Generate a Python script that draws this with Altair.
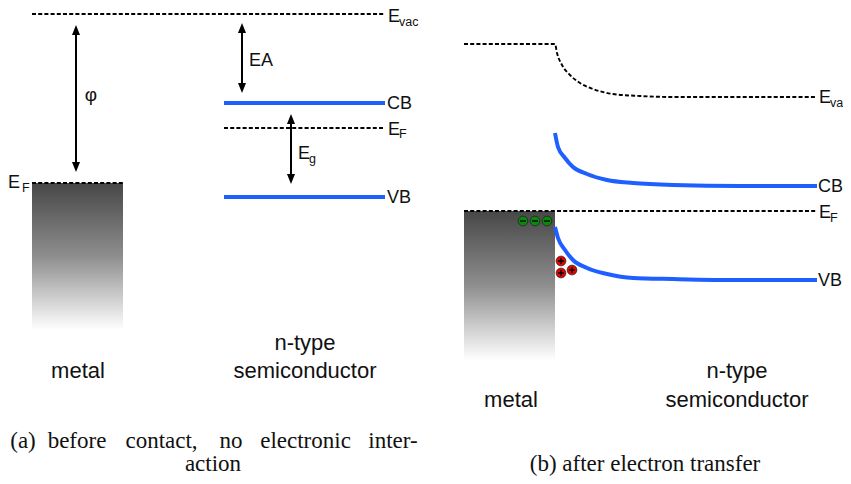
import altair as alt
import pandas as pd

# ---------------- data (figure coordinates, y grows downward) ----------------
# flat dashed levels: E_vac (a), E_F metal (a), E_F semiconductor (a), E_F (b)
dash_x1 = [32, 32, 224, 464]
dash_x2 = [385, 123, 385, 817]
dash_y = [14, 183, 128, 211]

# flat band edges in (a): CB, VB
band_a_x1 = [224, 224]
band_a_x2 = [385, 385]
band_a_y = [103, 197]

# bent vacuum level in (b)
evac_b_x = [464, 555, 557, 562, 570, 580, 593, 613, 640, 673, 740, 817]
evac_b_y = [44, 44, 53, 65, 75, 83, 89, 94, 96, 97, 97, 97]

# bent bands in (b)
cb_b_x = [555, 558, 565, 573, 587, 607, 633, 673, 740, 817]
cb_b_y = [133, 147, 158, 167, 174, 180, 183, 185, 186, 186]
vb_b_x = [555, 558, 565, 573, 587, 607, 633, 673, 740, 817]
vb_b_y = [227, 238, 250, 260, 268, 274, 278, 279, 280, 280]

# metal blocks
metal_x1 = [32, 464]
metal_x2 = [123, 555]
metal_y1 = [183, 211]
metal_y2 = [330, 360]

# double arrows: phi, EA, Eg
arrow_x = [76, 242, 291]
arrow_top = [25, 23, 114]
arrow_bot = [172, 93, 184]

# level labels (alphabetic baselines)
lab_t = ["E", "CB", "E", "VB", "E", "EA", "E", "E", "CB", "E", "VB"]
lab_x = [388, 387, 388, 387, 8, 249, 298, 819, 818, 819, 818]
lab_y = [21.5, 109, 135, 203, 188, 66, 159, 103, 192, 218, 286]
sub_t = ["vac", "F", "F", "g", "vac", "F"]
sub_x = [399, 399, 22, 309, 830, 830]
sub_y = [25.5, 138, 192, 163, 107, 222]

# material labels
mat_t = ["metal", "n-type", "semiconductor", "metal", "n-type", "semiconductor"]
mat_x = [78, 305, 305, 511, 737, 737]
mat_y = [378, 350, 378, 407, 378, 407]

# captions ((a) word by word, justified as in the reference)
cap_t = ["(a)", "before", "contact,", "no", "electronic", "inter-", "action",
         "(b) after electron transfer"]
cap_x = [23, 77, 161.5, 231, 305.5, 393, 213, 645]
cap_y = [448, 448, 448, 448, 448, 448, 471, 471]

# charges: electrons (green, minus) and holes (red, plus)
chg_x = [523, 535, 547, 561, 561, 572]
chg_y = [221, 221, 221, 261, 273, 270]
chg_kind = ["e", "e", "e", "h", "h", "h"]

# ---------------- chart ----------------
W, H = 835, 468
XD = [8, 843]
YD = [8, 476]


def X(f):
    return alt.X(f, type="quantitative", axis=None,
                 scale=alt.Scale(domain=XD, nice=False, zero=False))


def Y(f):
    return alt.Y(f, type="quantitative", axis=None,
                 scale=alt.Scale(domain=YD, nice=False, zero=False, reverse=True))


BLUE = "#1f5fff"
DASH = [4, 2.2]

grad = alt.LinearGradient(
    gradient="linear",
    stops=[alt.GradientStop(color="#474747", offset=0),
           alt.GradientStop(color="#8e8e8e", offset=0.5),
           alt.GradientStop(color="#ffffff", offset=1)],
    x1=0, x2=0, y1=0, y2=1)

metal = alt.Chart(pd.DataFrame({"x1": metal_x1, "x2": metal_x2, "y1": metal_y1, "y2": metal_y2})
                  ).mark_rect(fill=grad).encode(x=X("x1"), x2="x2", y=Y("y1"), y2="y2")

dashes = alt.Chart(pd.DataFrame({"x1": dash_x1, "x2": dash_x2, "y": dash_y})
                   ).mark_rule(color="black", strokeWidth=1.9, strokeDash=DASH
                               ).encode(x=X("x1"), x2="x2", y=Y("y"))

evac_b = alt.Chart(pd.DataFrame({"x": evac_b_x, "y": evac_b_y, "i": range(len(evac_b_x))})
                   ).mark_line(color="black", strokeWidth=1.9, strokeDash=DASH, interpolate="monotone"
                               ).encode(x=X("x"), y=Y("y"), order="i")

bands_a = alt.Chart(pd.DataFrame({"x1": band_a_x1, "x2": band_a_x2, "y": band_a_y})
                    ).mark_rule(color=BLUE, strokeWidth=4).encode(x=X("x1"), x2="x2", y=Y("y"))

bdf = pd.DataFrame({"x": cb_b_x + vb_b_x, "y": cb_b_y + vb_b_y,
                    "band": ["CB"] * len(cb_b_x) + ["VB"] * len(vb_b_x),
                    "i": list(range(len(cb_b_x))) + list(range(len(vb_b_x)))})
bands_b = alt.Chart(bdf).mark_line(color=BLUE, strokeWidth=4, interpolate="monotone", strokeCap="butt"
                                   ).encode(x=X("x"), y=Y("y"), detail="band", order="i")

adf = pd.DataFrame({"x": arrow_x, "top": arrow_top, "bot": arrow_bot})
adf["s1"] = adf["top"] + 4
adf["s2"] = adf["bot"] - 4
shafts = alt.Chart(adf).mark_rule(color="black", strokeWidth=2).encode(x=X("x"), y=Y("s1"), y2="s2")
head_up = alt.Chart(adf).mark_point(shape="M0,0L0.8,2L-0.8,2Z", filled=True, color="black", size=100, opacity=1
                                    ).encode(x=X("x"), y=Y("top"))
head_dn = alt.Chart(adf).mark_point(shape="M0,0L0.8,-2L-0.8,-2Z", filled=True, color="black", size=100, opacity=1
                                    ).encode(x=X("x"), y=Y("bot"))

labels = alt.Chart(pd.DataFrame({"t": lab_t, "x": lab_x, "y": lab_y})
                   ).mark_text(font="Liberation Sans", fontSize=18, align="left", baseline="alphabetic", color="#111"
                               ).encode(x=X("x"), y=Y("y"), text="t")
subs = alt.Chart(pd.DataFrame({"t": sub_t, "x": sub_x, "y": sub_y})
                 ).mark_text(font="Liberation Sans", fontSize=12.5, align="left", baseline="alphabetic", color="#111"
                             ).encode(x=X("x"), y=Y("y"), text="t")
phi = alt.Chart(pd.DataFrame({"t": ["φ"], "x": [91], "y": [101]})
                ).mark_text(font="Liberation Sans", fontSize=19, align="center", baseline="alphabetic", color="#111"
                            ).encode(x=X("x"), y=Y("y"), text="t")
mats = alt.Chart(pd.DataFrame({"t": mat_t, "x": mat_x, "y": mat_y})
                 ).mark_text(font="Liberation Sans", fontSize=22, align="center", baseline="alphabetic", color="#111"
                             ).encode(x=X("x"), y=Y("y"), text="t")
caps = alt.Chart(pd.DataFrame({"t": cap_t, "x": cap_x, "y": cap_y})
                 ).mark_text(font="Liberation Serif", fontSize=23, align="center", baseline="alphabetic", color="#111"
                             ).encode(x=X("x"), y=Y("y"), text="t")

cdf = pd.DataFrame({"x": chg_x, "y": chg_y, "k": chg_kind})
cdf["fillc"] = cdf["k"].map({"e": "#0a8a0a", "h": "#ee0000"})
cdf["sym"] = cdf["k"].map({"e": "M-0.6,0L0.6,0", "h": "M-0.6,0L0.6,0M0,-0.6L0,0.6"})
dots = alt.Chart(cdf).mark_point(shape="circle", filled=True, size=95, opacity=1, stroke="#222", strokeWidth=0.8
                                 ).encode(x=X("x"), y=Y("y"), fill=alt.Fill("fillc", scale=None))
signs = alt.Chart(cdf).mark_point(filled=False, size=100, color="black", strokeWidth=1.3, opacity=1
                                  ).encode(x=X("x"), y=Y("y"), shape=alt.Shape("sym", scale=None))

chart = alt.layer(metal, dashes, evac_b, bands_a, bands_b, shafts, head_up, head_dn,
                  labels, subs, phi, mats, caps, dots, signs
                  ).properties(width=W, height=H, padding=0, autosize="none"
                               ).configure_view(stroke=None)

chart.save("out.html", embed_options={"renderer": "svg", "actions": False})
